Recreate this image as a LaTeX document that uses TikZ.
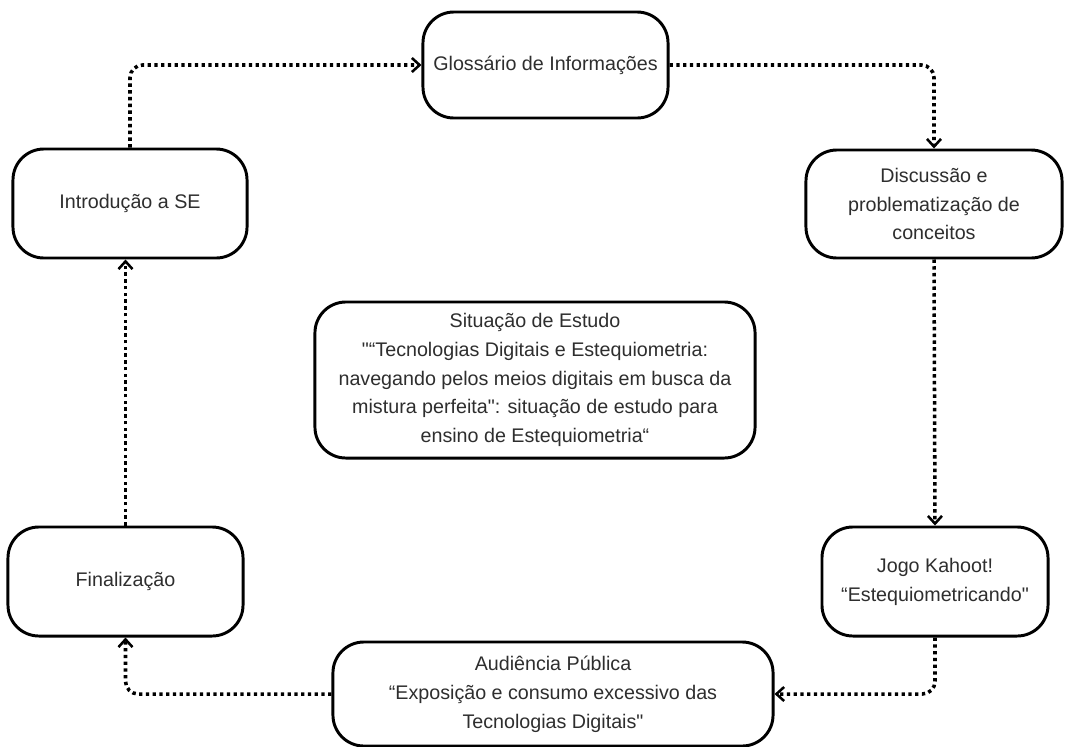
\documentclass[tikz,border=0pt]{standalone}
\usepackage{fontspec}
\setmainfont{Liberation Sans}
\usetikzlibrary{arrows.meta}

\begin{document}
\begin{tikzpicture}[x=0.025cm, y=-0.025cm,
  stage/.style={draw=black, line width=2.1pt, rounded corners=22pt, fill=white,
    align=center, inner sep=0pt, text=black!82,
    font=\fontsize{14}{20.5}\selectfont},
  flow/.style={line width=2.5pt, dash pattern=on 2.4pt off 2.4pt, rounded corners=9pt,
    -{Straight Barb[length=5.5pt,width=10pt,line width=1.8pt]}}]

  \useasboundingbox (0,0) rectangle (1068,746);
  \clip (0,0) rectangle (1068,746);

  % stages of the study situation
  \node[stage, minimum width=6.125cm, minimum height=2.65cm] (gloss) at (545.5,65)
    {Glossário de Informações};
  \node[stage, minimum width=6.4cm, minimum height=2.7cm] (disc) at (934,204)
    {Discussão e\\problematização de\\conceitos};
  \node[stage, minimum width=5.65cm, minimum height=2.725cm] (kahoot) at (935,581.5)
    {Jogo Kahoot!\\“Estequiometricando\textquotedbl};
  \node[stage, minimum width=11cm, minimum height=2.6cm] (aud) at (553,694)
    {Audiência Pública\\“Exposição e consumo excessivo das\\Tecnologias Digitais\textquotedbl};
  \node[stage, minimum width=5.875cm, minimum height=2.725cm] (fin) at (125.5,581.5)
    {Finalização};
  \node[stage, minimum width=5.85cm, minimum height=2.725cm] (intro) at (130,203.5)
    {Introdução a SE};

  % central description
  \node[stage, minimum width=11cm, minimum height=3.9cm] (central) at (535,380)
    {Situação de Estudo\\\textquotedbl“Tecnologias Digitais e Estequiometria:\\navegando pelos meios digitais em busca da\\mistura perfeita\textquotedbl: situação de estudo para\\ensino de Estequiometria“};

  % cycle of connectors
  \draw[flow] (intro.north) |- (gloss.west);
  \draw[flow] (gloss.east) -| (disc.north);
  \draw[flow] (disc.south) -- (kahoot.north);
  \draw[flow] (kahoot.south) |- (aud.east);
  \draw[flow] (aud.west) -| (fin.south);
  \draw[flow] (fin.north) -- (fin.north |- intro.south);
\end{tikzpicture}
\end{document}
